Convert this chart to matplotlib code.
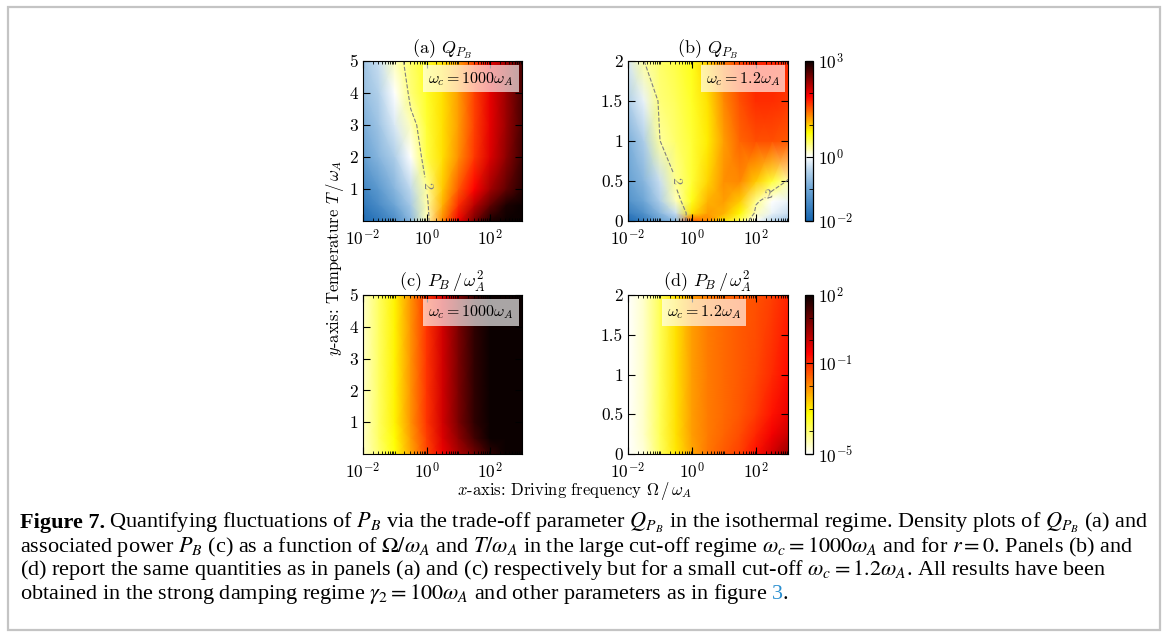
import numpy as np
import matplotlib
matplotlib.use("Agg")
import matplotlib.pyplot as plt
from matplotlib.colors import LinearSegmentedColormap, ListedColormap
from matplotlib.patches import Rectangle
from matplotlib.ticker import LogLocator, FixedLocator, FuncFormatter, NullFormatter

plt.rcParams['font.family'] = 'cmr10'
plt.rcParams['mathtext.fontset'] = 'cm'
plt.rcParams['axes.formatter.use_mathtext'] = True

# ---- data (log10 values on a coarse grid) ----
LOG_OMEGA = [-2, -1.5, -1, -0.5, 0, 0.5, 1, 1.5, 2, 2.5, 3]

# (a) log10 Q_PB, wc = 1000 wA, rows = temperature
T_A = [0, 0.5, 1, 2, 3, 4, 5]
Q_A = [
    [-1.9, -1.7, -1.4, -0.8, 0.2, 1.3, 1.95, 2.5, 2.9, 3.0, 3.0],
    [-1.7, -1.4, -1.0, -0.55, 0.25, 1.1, 1.7, 2.2, 2.6, 2.9, 3.0],
    [-1.5, -1.2, -0.8, -0.35, 0.3, 1.0, 1.5, 1.9, 2.3, 2.6, 2.85],
    [-1.1, -0.8, -0.5, 0.0, 0.55, 0.9, 1.25, 1.65, 2.05, 2.4, 2.75],
    [-0.9, -0.6, -0.2, 0.2, 0.6, 0.9, 1.2, 1.6, 2.0, 2.35, 2.7],
    [-0.7, -0.45, 0.0, 0.4, 0.65, 0.9, 1.2, 1.6, 2.0, 2.35, 2.7],
    [-0.6, -0.3, 0.2, 0.45, 0.65, 0.9, 1.2, 1.6, 2.0, 2.35, 2.7],
]

# (b) log10 Q_PB, wc = 1.2 wA
T_B = [0, 0.1, 0.25, 0.5, 1, 1.5, 2]
Q_B = [
    [-1.9, -1.6, -1.1, -0.8, 1.5, 1.3, 0.9, 0.5, 0.0, -0.4, -0.6],
    [-1.6, -1.3, -0.8, -0.3, 0.9, 1.2, 1.1, 0.8, 0.2, -0.1, -0.3],
    [-1.3, -1.0, -0.5, 0.2, 0.7, 1.1, 1.2, 1.0, 0.35, 0.0, -0.1],
    [-1.1, -0.8, -0.3, 0.35, 0.6, 0.95, 1.25, 1.3, 1.0, 0.6, 0.25],
    [-0.9, -0.5, 0.3, 0.45, 0.6, 0.85, 1.2, 1.45, 1.55, 1.55, 1.5],
    [-0.5, -0.1, 0.4, 0.5, 0.65, 0.9, 1.3, 1.55, 1.7, 1.7, 1.65],
    [-0.2, 0.3, 0.45, 0.55, 0.7, 1.0, 1.35, 1.6, 1.75, 1.75, 1.7],
]

# (c) log10 P_B / wA^2, wc = 1000 wA
T_C = [0, 0.5, 1, 2, 3, 4, 5]
P_C = [
    [-4.6, -4.0, -3.3, -2.3, -1.3, -0.4, 0.3, 0.9, 1.6, 2.0, 2.0],
    [-4.6, -3.9, -3.2, -2.2, -1.2, -0.2, 0.6, 1.4, 2.0, 2.0, 2.0],
    [-4.6, -3.9, -3.1, -2.1, -1.1, -0.1, 0.8, 1.6, 2.0, 2.0, 2.0],
    [-4.6, -3.9, -3.1, -2.1, -1.1, -0.1, 0.8, 1.6, 2.0, 2.0, 2.0],
    [-4.6, -3.9, -3.1, -2.1, -1.1, -0.1, 0.8, 1.6, 2.0, 2.0, 2.0],
    [-4.6, -3.9, -3.1, -2.1, -1.1, -0.1, 0.8, 1.6, 2.0, 2.0, 2.0],
    [-4.6, -3.9, -3.1, -2.1, -1.1, -0.1, 0.8, 1.6, 2.0, 2.0, 2.0],
]

# (d) log10 P_B / wA^2, wc = 1.2 wA
T_D = [0, 0.25, 0.5, 1, 2]
P_D = [
    [-5.0, -4.7, -3.9, -3.0, -2.3, -1.8, -1.5, -1.2, -0.7, -0.1, 0.5],
    [-5.0, -4.6, -3.8, -2.9, -2.2, -1.85, -1.6, -1.35, -0.95, -0.45, 0.0],
    [-5.0, -4.6, -3.8, -2.9, -2.2, -1.85, -1.65, -1.45, -1.15, -0.75, -0.35],
    [-5.0, -4.6, -3.8, -2.9, -2.2, -1.85, -1.65, -1.5, -1.3, -1.0, -0.65],
    [-5.0, -4.6, -3.8, -2.9, -2.2, -1.85, -1.65, -1.5, -1.4, -1.2, -0.9],
]

Q_RANGE = (-2, 3)
P_RANGE = (-5, 2)
Q_CONTOUR = np.log10(2)
# where the "2" labels sit on the contours (log10 omega, T)
LABEL_A = [(-0.06, 1.1)]
LABEL_B = [(-0.75, 0.5), (2.4, 0.3)]

# colormaps: blue -> white below 10^0, hot_r above
blues = LinearSegmentedColormap.from_list(
    'bl', [(0, '#1565b0'), (0.5, '#6ea6d6'), (0.8, '#b9d5ec'), (1, '#f8fbfd')])
hot_r = plt.get_cmap('hot_r')
q_cmap = ListedColormap(np.vstack([blues(np.linspace(0, 1, 160)),
                                   hot_r(np.linspace(0, 1, 240))]))
p_cmap = hot_r

W, H = 1168, 637
fig = plt.figure(figsize=(W / 100, H / 100), dpi=100)

def px_axes(x0, y0, x1, y1):
    return fig.add_axes([x0 / W, 1 - y1 / H, (x1 - x0) / W, (y1 - y0) / H])

def style(ax, ymax, yticks):
    ax.set_xscale('log')
    ax.set_xlim(1e-2, 1e3)
    ax.set_ylim(0, ymax)
    ax.xaxis.set_major_locator(LogLocator(base=100))
    ax.xaxis.set_minor_locator(LogLocator(base=10, subs=np.arange(1, 10), numticks=20))
    ax.xaxis.set_minor_formatter(NullFormatter())
    ax.set_yticks(yticks)
    ax.yaxis.set_major_formatter(FuncFormatter(lambda v, p: f'{v:g}'))
    ax.tick_params(which='both', direction='in', top=True, right=True, labelsize=12.5)
    ax.tick_params(which='major', length=5)
    ax.tick_params(which='minor', length=2.5)
    ax.tick_params(axis='x', pad=5)

def panel(ax, T, Z, cmap, rng, title, label, label_pos, ymax, yticks, labels_at=None):
    X, Y = np.meshgrid(10.0 ** np.array(LOG_OMEGA), np.array(T))
    Z = np.array(Z)
    m = ax.pcolormesh(X, Y, Z, shading='gouraud', cmap=cmap, vmin=rng[0], vmax=rng[1])
    if labels_at:
        cs = ax.contour(X, Y, Z, levels=[Q_CONTOUR], colors='0.5',
                        linestyles='--', linewidths=0.8)
        ax.clabel(cs, fmt={Q_CONTOUR: '2'}, fontsize=10, inline=True,
                  manual=[(10.0 ** lx, t) for lx, t in labels_at])
    style(ax, ymax, yticks)
    ax.set_title(title, fontsize=13, pad=3)
    x, ha = label_pos
    ax.text(x, 0.945, label, transform=ax.transAxes, ha=ha, va='top', fontsize=11.5,
            bbox=dict(boxstyle='square,pad=0.3', facecolor='white', alpha=0.65, edgecolor='none'))
    return m

def colorbar(mesh, cax, ticks, minor):
    cb = fig.colorbar(mesh, cax=cax, ticks=ticks)
    cb.ax.set_yticklabels([f'$10^{{{t}}}$' for t in ticks])
    cb.ax.yaxis.set_minor_locator(FixedLocator(minor))
    cb.ax.tick_params(which='both', direction='in', labelsize=12.5)
    cb.ax.tick_params(which='major', length=5)
    cb.ax.tick_params(which='minor', length=3)
    cb.outline.set_linewidth(0.9)

ax_a = px_axes(363, 61, 522, 221)
ax_b = px_axes(628, 61, 788, 221)
cax_b = px_axes(805, 61, 813, 221)
ax_c = px_axes(363, 295, 522, 454)
ax_d = px_axes(628, 295, 788, 454)
cax_d = px_axes(805, 295, 813, 454)

panel(ax_a, T_A, Q_A, q_cmap, Q_RANGE, r'(a) $Q_{P_B}$', r'$\omega_c = 1000\omega_A$',
      (0.95, 'right'), 5, [1, 2, 3, 4, 5], labels_at=LABEL_A)
mb = panel(ax_b, T_B, Q_B, q_cmap, Q_RANGE, r'(b) $Q_{P_B}$', r'$\omega_c = 1.2\omega_A$',
           (0.95, 'right'), 2, [0, 0.5, 1, 1.5, 2], labels_at=LABEL_B)
panel(ax_c, T_C, P_C, p_cmap, P_RANGE, r'(c) $P_B\,/\,\omega_A^2$', r'$\omega_c = 1000\omega_A$',
      (0.95, 'right'), 5, [1, 2, 3, 4, 5])
md = panel(ax_d, T_D, P_D, p_cmap, P_RANGE, r'(d) $P_B\,/\,\omega_A^2$', r'$\omega_c = 1.2\omega_A$',
           (0.475, 'center'), 2, [0, 0.5, 1, 1.5, 2])

colorbar(mb, cax_b, [-2, 0, 3], [-1, 1, 2])
colorbar(md, cax_d, [-5, -1, 2], [-4, -3, -2, 0, 1])

fig.text(335 / W, 1 - 258 / H, r'$y$-axis: Temperature $T\,/\,\omega_A$', rotation=90,
         ha='center', va='center', fontsize=12)
fig.text(575 / W, 1 - 491 / H, r'$x$-axis: Driving frequency $\Omega\,/\,\omega_A$',
         ha='center', va='center', fontsize=12)

# caption
cap = dict(fontsize=16, family='Liberation Serif', math_fontfamily='stix', va='baseline')
renderer = fig.canvas.get_renderer()

def put(x_px, y_px, txt, **kw):
    t = fig.text(x_px / W, 1 - y_px / H, txt, **cap, **kw)
    return t.get_window_extent(renderer).x1

x = put(20, 528, 'Figure 7.', weight='bold')
put(x + 4, 528, r'Quantifying fluctuations of $P_B$ via the trade-off parameter $Q_{P_B}$ in the '
    r'isothermal regime. Density plots of $Q_{P_B}$ (a) and')
put(20, 552, r'associated power $P_B$ (c) as a function of $\Omega/\omega_A$ and $T/\omega_A$ in the '
    r'large cut-off regime $\omega_c = 1000\omega_A$ and for $r = 0$. Panels (b) and')
put(20, 575, r'(d) report the same quantities as in panels (a) and (c) respectively but for a small '
    r'cut-off $\omega_c = 1.2\omega_A$. All results have been')
x = put(20, 599, r'obtained in the strong damping regime $\gamma_2 = 100\omega_A$ and other '
        r'parameters as in figure')
x = put(x + 4, 599, '3', color='#2a8fd0')
put(x, 599, '.')

fig.patches.append(Rectangle((8 / W, 7 / H), (1160 - 8) / W, (630 - 7) / H,
                             transform=fig.transFigure, fill=False,
                             edgecolor='#c4c4c4', linewidth=1.6))

fig.savefig('out.png', dpi=100)
